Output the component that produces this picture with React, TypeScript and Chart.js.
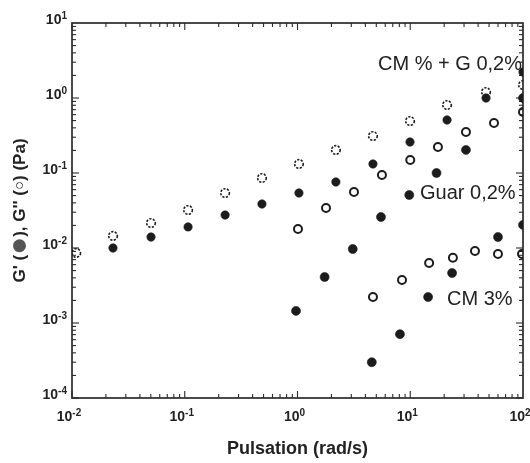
import React, { useEffect, useRef } from "react";
import { Chart, registerables } from "chart.js";

Chart.register(...registerables);

// ---- data (ω in rad/s, moduli in Pa) ----
// CM % + G 0,2%
const cmgLossOmega = [0.0109, 0.0231, 0.0502, 0.107, 0.228, 0.484, 1.03, 2.19, 4.67, 9.95, 21.2, 47.0, 100];
const cmgLoss = [0.0086, 0.0145, 0.0215, 0.0321, 0.0541, 0.0858, 0.132, 0.203, 0.311, 0.493, 0.807, 1.2, 1.49];
const cmgStorageOmega = [0.0231, 0.0502, 0.107, 0.228, 0.484, 1.03, 2.19, 4.67, 9.95, 21.2, 47.0, 100];
const cmgStorage = [0.01, 0.014, 0.0191, 0.0275, 0.0386, 0.0541, 0.0759, 0.132, 0.259, 0.509, 1.0, 2.22];

// Guar 0,2%
const guarLossOmega = [1.01, 1.79, 3.17, 5.61, 10.0, 17.6, 31.2, 55.3, 100];
const guarLoss = [0.0179, 0.0341, 0.0558, 0.094, 0.149, 0.222, 0.352, 0.464, 0.65];
const guarStorageOmega = [0.97, 1.74, 3.09, 5.5, 9.8, 17.1, 31.2, 100];
const guarStorage = [0.00145, 0.0041, 0.0097, 0.0259, 0.0509, 0.1, 0.203, 1.0];

// CM 3%
const cm3LossOmega = [4.67, 8.45, 14.7, 23.9, 37.5, 60, 98];
const cm3Loss = [0.00222, 0.00375, 0.0063, 0.0074, 0.0091, 0.0083, 0.0083];
const cm3StorageOmega = [4.56, 8.1, 14.4, 23.5, 60, 100];
const cm3Storage = [0.0003, 0.00071, 0.00222, 0.00464, 0.014, 0.0203];

// tick labels (powers of ten)
const xTickExponents = [-2, -1, 0, 1, 2];
const yTickExponents = [-4, -3, -2, -1, 0, 1];

// series annotations
const seriesNames = ["CM % + G 0,2%", "Guar 0,2%", "CM 3%"];
const nameOmega = [5.18, 12.2, 21.2];
const nameG = [2.84, 0.054, 0.00209];

const xTitle = "Pulsation (rad/s)";

const FONT = "'Liberation Sans', Arial, Helvetica, sans-serif";
const INK = "#222222";

const pts = (xs: number[], ys: number[]) => xs.map((x, i) => ({ x, y: ys[i] }));

const framePlugin = {
  id: "frameTicks",
  beforeDatasetsDraw(chart: any) {
    const { ctx, chartArea: a, scales } = chart;
    const xs = scales.x;
    const ys = scales.y;
    ctx.save();
    ctx.strokeStyle = "#2b2b2b";
    ctx.lineWidth = 1.7;
    ctx.strokeRect(a.left, a.top, a.right - a.left, a.bottom - a.top);
    ctx.lineWidth = 1.1;
    const seg = (x1: number, y1: number, x2: number, y2: number) => {
      ctx.beginPath();
      ctx.moveTo(x1, y1);
      ctx.lineTo(x2, y2);
      ctx.stroke();
    };
    for (let e = -2; e < 2; e++) {
      for (let k = 1; k <= 9; k++) {
        const px = xs.getPixelForValue(k * Math.pow(10, e));
        const len = k === 1 ? 7 : 4;
        seg(px, a.bottom, px, a.bottom - len);
        seg(px, a.top, px, a.top + len);
      }
    }
    for (let e = -4; e < 1; e++) {
      for (let k = 1; k <= 9; k++) {
        const py = ys.getPixelForValue(k * Math.pow(10, e));
        const len = k === 1 ? 7 : 4;
        seg(a.left, py, a.left + len, py);
        seg(a.right, py, a.right - len, py);
      }
    }
    ctx.restore();
  },
  beforeDatasetDraw(chart: any, args: any) {
    const ds = chart.data.datasets[args.index];
    if (ds.dashed) chart.ctx.setLineDash([2.2, 1.4]);
  },
  afterDatasetDraw(chart: any) {
    chart.ctx.setLineDash([]);
  },
  afterDraw(chart: any) {
    const { ctx, chartArea: a, scales } = chart;
    const xs = scales.x;
    const ys = scales.y;
    ctx.save();
    ctx.fillStyle = INK;
    ctx.textBaseline = "alphabetic";
    const big = `bold 14px ${FONT}`;
    const small = `bold 10px ${FONT}`;
    const measure = (t: string, f: string) => {
      ctx.font = f;
      return ctx.measureText(t).width;
    };
    const drawPow = (exp: number, x: number, base: number) => {
      const e = String(exp);
      ctx.font = big;
      ctx.fillText("10", x, base);
      const w = measure("10", big);
      ctx.font = small;
      ctx.fillText(e, x + w, base - 5);
    };
    // y tick labels
    yTickExponents.forEach((n) => {
      const py = ys.getPixelForValue(Math.pow(10, n));
      const w = measure("10", big) + measure(String(n), small);
      drawPow(n, a.left - 5 - w, py + 1);
    });
    // x tick labels
    xTickExponents.forEach((n) => {
      const px = xs.getPixelForValue(Math.pow(10, n));
      const w = measure("10", big) + measure(String(n), small);
      drawPow(n, px - 3 - w / 2, a.bottom + 23);
    });
    // series annotations
    ctx.font = `20px ${FONT}`;
    ctx.textBaseline = "middle";
    seriesNames.forEach((name, i) => {
      const px = xs.getPixelForValue(nameOmega[i]);
      const py = ys.getPixelForValue(nameG[i]);
      ctx.fillText(name, px, py);
    });
    // y axis title (rotated), built from pieces
    const titleFont = `bold 17px ${FONT}`;
    const pieces = [
      { t: "G'", f: titleFont, c: INK },
      { t: " (", f: titleFont, c: INK },
      { t: "●", f: `30px ${FONT}`, c: "#555555" },
      { t: "), G'' (", f: titleFont, c: INK },
      { t: "○", f: `bold 15px ${FONT}`, c: INK },
      { t: ") (Pa)", f: titleFont, c: INK },
    ];
    const widths = pieces.map((p) => measure(p.t, p.f));
    const total = widths.reduce((s, w) => s + w, 0);
    ctx.translate(20, (a.top + a.bottom) / 2);
    ctx.rotate(-Math.PI / 2);
    ctx.textBaseline = "middle";
    let cx = -total / 2;
    pieces.forEach((p, i) => {
      ctx.font = p.f;
      ctx.fillStyle = p.c;
      ctx.fillText(p.t, cx, 0);
      cx += widths[i];
    });
    ctx.restore();
  },
};

export default function App() {
  const ref = useRef<HTMLCanvasElement | null>(null);
  useEffect(() => {
    document.body.style.margin = "0";
    const canvas = ref.current;
    if (!canvas) return;
    const filled = (data: any[], r = 4.5) => ({
      data,
      pointRadius: r,
      pointBackgroundColor: "#1c1c1c",
      pointBorderColor: "#1c1c1c",
      pointBorderWidth: 0.6,
      showLine: false,
      clip: 0,
    });
    const open = (data: any[], dashed = false) => ({
      data,
      pointRadius: dashed ? 4.3 : 4,
      pointBackgroundColor: "rgba(255,255,255,0)",
      pointBorderColor: "#1c1c1c",
      pointBorderWidth: dashed ? 1.6 : 2,
      showLine: false,
      clip: 0,
      dashed,
    });
    const chart = new Chart(canvas, {
      type: "scatter",
      data: {
        datasets: [
          open(pts(cmgLossOmega, cmgLoss), true),
          filled(pts(cmgStorageOmega, cmgStorage), 4.2),
          open(pts(guarLossOmega, guarLoss)),
          filled(pts(guarStorageOmega, guarStorage)),
          open(pts(cm3LossOmega, cm3Loss)),
          filled(pts(cm3StorageOmega, cm3Storage)),
        ] as any,
      },
      options: {
        responsive: false,
        animation: false,
        layout: { padding: { top: 23, right: 7, left: 0, bottom: 0 } },
        plugins: { legend: { display: false }, tooltip: { enabled: false } },
        scales: {
          x: {
            type: "logarithmic",
            min: 0.01,
            max: 100,
            grid: { display: false },
            border: { display: false },
            ticks: { display: false },
            afterFit: (s: any) => {
              s.height = 65;
            },
            title: {
              display: true,
              text: xTitle,
              color: INK,
              font: { family: FONT, size: 18, weight: "bold" },
              padding: { top: 0, bottom: 3 },
            },
          },
          y: {
            type: "logarithmic",
            min: 0.0001,
            max: 10,
            grid: { display: false },
            border: { display: false },
            ticks: { display: false },
            afterFit: (s: any) => {
              s.width = 72;
            },
          },
        },
      } as any,
      plugins: [framePlugin],
    });
    return () => chart.destroy();
  }, []);
  return (
    <div style={{ position: "fixed", left: 0, top: 0, width: 530, height: 463, background: "#fff" }}>
      <canvas ref={ref} width={530} height={463} style={{ display: "block" }} />
    </div>
  );
}
